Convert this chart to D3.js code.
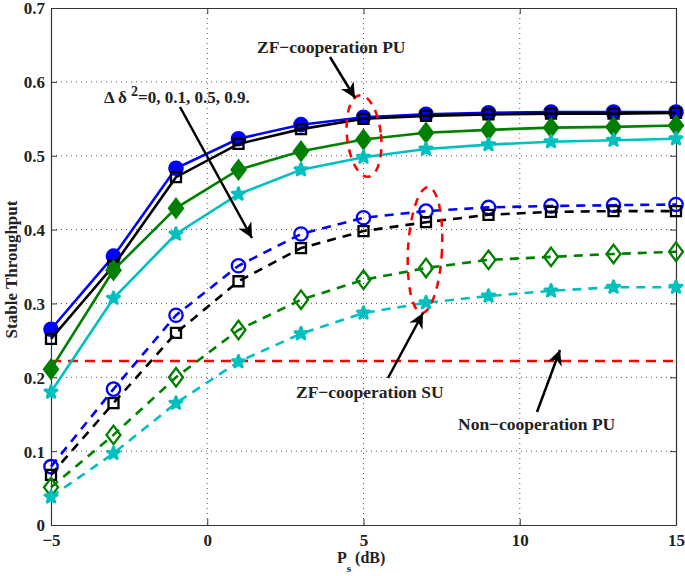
<!DOCTYPE html>
<html>
<head>
<meta charset="utf-8">
<title>Stable Throughput</title>
<style>
	body, html { margin:0px; background:#fff; }
	svg text { font-family:"Liberation Serif", "Times New Roman", serif; font-weight:bold; }
</style>
<script src="https://cdn.jsdelivr.net/npm/d3@7"></script>
</head>
<body>
<svg id="chart" width="685" height="576"></svg>
<script>
// x values (Ps in dB)
var ps = [-5, -3, -1, 1, 3, 5, 7, 9, 11, 13, 15];

// ZF-cooperation PU (solid), delta^2 = 0, 0.1, 0.5, 0.9
var puD0  = [0.265, 0.364, 0.483, 0.523, 0.542, 0.552, 0.556, 0.558, 0.559, 0.559, 0.559];
var puD01 = [0.252, 0.351, 0.471, 0.516, 0.536, 0.550, 0.554, 0.556, 0.557, 0.557, 0.558];
var puD05 = [0.211, 0.345, 0.429, 0.481, 0.506, 0.522, 0.531, 0.535, 0.538, 0.539, 0.541];
var puD09 = [0.180, 0.307, 0.394, 0.448, 0.481, 0.498, 0.509, 0.515, 0.519, 0.521, 0.523];

// ZF-cooperation SU (dashed)
var suD0  = [0.079, 0.184, 0.284, 0.351, 0.394, 0.416, 0.425, 0.430, 0.432, 0.433, 0.434];
var suD01 = [0.068, 0.165, 0.260, 0.330, 0.375, 0.398, 0.410, 0.420, 0.424, 0.425, 0.425];
var suD05 = [0.051, 0.122, 0.200, 0.264, 0.305, 0.332, 0.348, 0.359, 0.363, 0.367, 0.370];
var suD09 = [0.038, 0.097, 0.165, 0.221, 0.259, 0.287, 0.301, 0.310, 0.317, 0.322, 0.322];

// Non-cooperation PU
var nonCoop = 0.222;

var xTicks = [-5, 0, 5, 10, 15];
var yTicks = [0, 0.1, 0.2, 0.3, 0.4, 0.5, 0.6, 0.7];

var series = [
	{ values: puD0,  color: "#0000ff", dash: null, marker: "circle",  fill: true },
	{ values: puD01, color: "#000000", dash: null, marker: "square",  fill: false },
	{ values: puD05, color: "#008000", dash: null, marker: "diamond", fill: true },
	{ values: puD09, color: "#00bfbf", dash: null, marker: "star",    fill: true },
	{ values: suD0,  color: "#0000ff", dash: "9,7", marker: "circle",  fill: false },
	{ values: suD01, color: "#000000", dash: "9,7", marker: "square",  fill: false },
	{ values: suD05, color: "#008000", dash: "9,7", marker: "diamond", fill: false },
	{ values: suD09, color: "#00bfbf", dash: "9,7", marker: "star",    fill: true }
];

var pLeft = 51, pRight = 676, pTop = 8, pBottom = 525;
var svg = d3.select("#chart");

var x = d3.scaleLinear().domain([-5, 15]).range([pLeft, pRight]);
var y = d3.scaleLinear().domain([0, 0.7]).range([pBottom, pTop]);

// grid
var grid = svg.append("g").attr("stroke", "#555").attr("stroke-width", 1).attr("stroke-dasharray", "1,4");
grid.selectAll(".gx").data(xTicks.slice(1, -1)).enter().append("line")
	.attr("x1", function(d){ return x(d); }).attr("x2", function(d){ return x(d); })
	.attr("y1", pTop).attr("y2", pBottom);
grid.selectAll(".gy").data(yTicks.slice(1, -1)).enter().append("line")
	.attr("y1", function(d){ return y(d); }).attr("y2", function(d){ return y(d); })
	.attr("x1", pLeft).attr("x2", pRight);

// axes (matlab style, inward ticks, boxed)
var xAxis = svg.append("g").attr("transform", "translate(0," + pBottom + ")")
	.call(d3.axisBottom(x).tickValues(xTicks).tickSizeInner(-6).tickSizeOuter(0).tickPadding(9).tickFormat(function(d){ return d < 0 ? "\u2212" + (-d) : d; }));
var xTop = svg.append("g").attr("transform", "translate(0," + pTop + ")")
	.call(d3.axisTop(x).tickValues(xTicks).tickSizeInner(-6).tickSizeOuter(0).tickFormat(""));
var yAxis = svg.append("g").attr("transform", "translate(" + pLeft + ",0)")
	.call(d3.axisLeft(y).tickValues(yTicks).tickSizeInner(-6).tickSizeOuter(0).tickPadding(6).tickFormat(function(d){ return d === 0 ? "0" : d3.format(".1f")(d); }));
var yRight = svg.append("g").attr("transform", "translate(" + pRight + ",0)")
	.call(d3.axisRight(y).tickValues(yTicks).tickSizeInner(-6).tickSizeOuter(0).tickFormat(""));

[xAxis, xTop, yAxis, yRight].forEach(function(a){
	a.selectAll("path").attr("stroke", "#333").attr("stroke-width", 1.2);
	a.selectAll("line").attr("stroke", "#333");
	a.selectAll("text").attr("fill", "#222").style("font-size", "17px");
});
yAxis.selectAll("text").attr("dy", "0.35em");

// non-cooperation line
svg.append("line")
	.attr("x1", x(-5)).attr("x2", x(15))
	.attr("y1", y(nonCoop)).attr("y2", y(nonCoop))
	.attr("stroke", "#ff0000").attr("stroke-width", 2.5).attr("stroke-dasharray", "10,7");

var line = d3.line()
	.x(function(d, i){ return x(ps[i]); })
	.y(function(d){ return y(d); });

// wider diamond, like matlab's 'd' marker
var wideDiamond = {
	draw: function(context, size) {
		var h = Math.sqrt(size / 1.5), w = h * 0.75;
		context.moveTo(0, -h);
		context.lineTo(w, 0);
		context.lineTo(0, h);
		context.lineTo(-w, 0);
		context.closePath();
	}
};

var symbolFor = {
	circle: d3.symbol().type(d3.symbolCircle).size(140),
	square: d3.symbol().type(d3.symbolSquare).size(100),
	diamond: d3.symbol().type(wideDiamond).size(130),
	star: d3.symbol().type(d3.symbolStar).size(45)
};

series.forEach(function(s){
	svg.append("path")
		.attr("d", line(s.values))
		.attr("fill", "none")
		.attr("stroke", s.color)
		.attr("stroke-width", 2.6)
		.attr("stroke-dasharray", s.dash);

	svg.append("g").selectAll("path").data(s.values).enter().append("path")
		.attr("transform", function(d, i){ return "translate(" + x(ps[i]) + "," + y(d) + ")"; })
		.attr("d", symbolFor[s.marker]())
		.attr("fill", s.fill ? s.color : "#fff")
		.attr("fill-opacity", s.fill ? 1 : 0)
		.attr("stroke", s.color)
		.attr("stroke-linejoin", s.marker === "star" ? "round" : "miter")
		.attr("stroke-width", s.marker === "star" ? 3 : 2.3);
});

// ellipses
svg.append("ellipse")
	.attr("transform", "translate(364,136) rotate(-6)")
	.attr("rx", 17).attr("ry", 41)
	.attr("fill", "none").attr("stroke", "#ff0000").attr("stroke-width", 2.5).attr("stroke-dasharray", "8,7");
svg.append("ellipse")
	.attr("transform", "translate(425,250) rotate(3)")
	.attr("rx", 17).attr("ry", 63)
	.attr("fill", "none").attr("stroke", "#ff0000").attr("stroke-width", 2.5).attr("stroke-dasharray", "8,7");

// arrows
var defs = svg.append("defs");
defs.append("marker").attr("id", "head")
	.attr("viewBox", "0 0 10 10").attr("refX", 10).attr("refY", 5)
	.attr("markerWidth", 7).attr("markerHeight", 6).attr("markerUnits", "strokeWidth")
	.attr("orient", "auto")
	.append("path").attr("d", "M0,0 L10,5 L0,10 L3,5 Z").attr("fill", "#000");

var arrows = [
	[330, 57, 355, 98],
	[180, 107, 252, 238],
	[388, 378, 423, 313],
	[537, 412, 560, 350]
];
svg.selectAll(".arrow").data(arrows).enter().append("line")
	.attr("x1", function(d){ return d[0]; }).attr("y1", function(d){ return d[1]; })
	.attr("x2", function(d){ return d[2]; }).attr("y2", function(d){ return d[3]; })
	.attr("stroke", "#000").attr("stroke-width", 2.5).attr("marker-end", "url(#head)");

// annotation text
function note(tx, ty, str) {
	return svg.append("text").attr("x", tx).attr("y", ty).attr("fill", "#222").style("font-size", "17.5px").text(str);
}
note(257, 53, "ZF\u2212cooperation PU");
note(296, 398, "ZF\u2212cooperation SU");
note(458, 430, "Non\u2212cooperation PU");
var dl = svg.append("text").attr("x", 104).attr("y", 103).attr("fill", "#222").style("font-size", "17px");
dl.append("tspan").text("\u0394 \u03b4 ");
dl.append("tspan").attr("dy", -7).style("font-size", "14px").text("2");
dl.append("tspan").attr("dy", 7).text("=0, 0.1, 0.5, 0.9.");

// axis labels
svg.append("text")
	.attr("transform", "translate(17," + ((pTop + pBottom) / 2 + 3) + ") rotate(-90)")
	.attr("text-anchor", "middle").attr("fill", "#222").style("font-size", "17px")
	.text("Stable Throughput");
var xl = svg.append("text").attr("x", 337).attr("y", 563).attr("fill", "#222").style("font-size", "16px");
xl.append("tspan").text("P");
xl.append("tspan").attr("dy", 9).style("font-size", "11px").text("s");
xl.append("tspan").attr("dy", -9).text(" (dB)");
</script>
</body>
</html>
